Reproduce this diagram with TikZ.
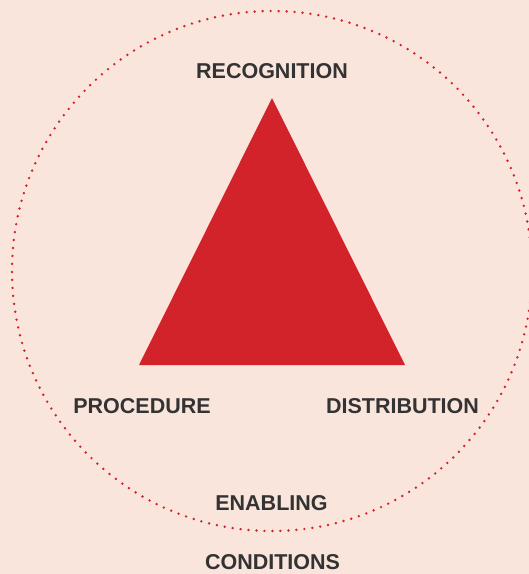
\documentclass[tikz,border=0pt]{standalone}
\usepackage{fontspec}
\setmainfont{Liberation Sans}
\usetikzlibrary{backgrounds}

\definecolor{paper}{HTML}{FAE5DC}
\definecolor{tri}{HTML}{D2232A}
\definecolor{ink}{HTML}{333333}

\begin{document}
\begin{tikzpicture}[x=1pt,y=-1pt]
    \tikzstyle{lab}=[font=\fontsize{21.5}{24}\selectfont\bfseries,text=ink,
    anchor=base,inner sep=0pt]

    \tikzstyle{ring}=[draw=tri,line width=2.7pt,line cap=round,
    dash pattern=on 0pt off 8pt]

    \fill[paper] (0,0) rectangle (529,574);
    \useasboundingbox (0,0) rectangle (529,574);
    \clip (0,0) rectangle (529,574);

    \coordinate (centre) at (272,271);
    \coordinate (top) at (272,98);
    \coordinate (left) at (139,365);
    \coordinate (right) at (405,365);

    \draw[ring] (centre) circle (260);
    \fill[tri] (top) -- (right) -- (left) -- cycle;

    \node[lab](recognition) at (272,78) {RECOGNITION};
    \node[lab](procedure) at (142,413) {PROCEDURE};
    \node[lab](distribution) at (402.5,413) {DISTRIBUTION};
    \node[lab](enabling) at (271.5,510) {ENABLING};
    \node[lab](conditions) at (272.5,569) {CONDITIONS};
  \end{tikzpicture}
\end{document}
